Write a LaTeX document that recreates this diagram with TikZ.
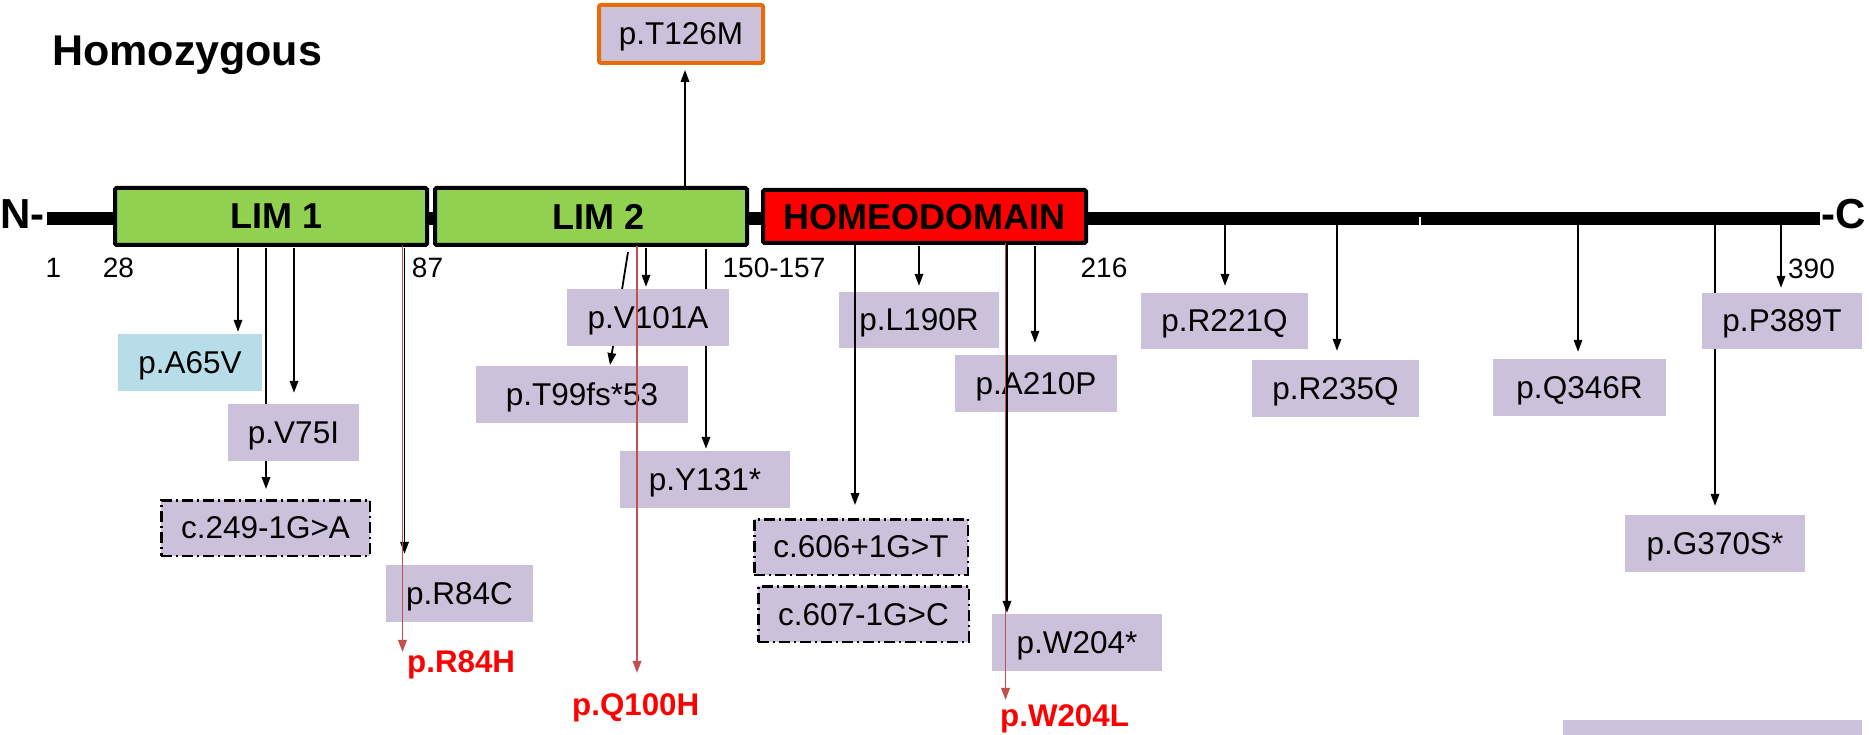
\documentclass[tikz,border=0pt]{standalone}
\usepackage{fontspec}
\setmainfont{Liberation Sans}
\usetikzlibrary{arrows.meta,backgrounds}
\definecolor{lav}{RGB}{204,193,218}
\definecolor{lblue}{RGB}{183,222,232}
\definecolor{lgreen}{RGB}{146,208,80}
\definecolor{hdred}{RGB}{255,0,0}
\definecolor{orng}{RGB}{228,108,10}
\definecolor{arred}{RGB}{192,80,77}
\begin{document}
\begin{tikzpicture}[x=1pt,y=-1pt,
  mut/.style={fill=lav, inner sep=0pt, text depth=0pt, minimum height=57pt, font=\fontsize{31.5}{36}\selectfont},
  splice/.style={mut, draw=black, line width=2.5pt, dash pattern=on 11pt off 4pt on 2pt off 4pt, minimum height=55.5pt},
  dom/.style={draw=black, line width=4pt, inner sep=0pt, text depth=0pt, rounded corners=1.5pt, font=\bfseries\fontsize{36}{40}\selectfont},
  num/.style={inner sep=0pt, text depth=0pt, font=\fontsize{28}{32}\selectfont},
  arr/.style={line width=1.8pt, -{Triangle[length=12pt,width=8.5pt]}},
  rarr/.style={arr, draw=arred},
  redlab/.style={inner sep=0pt, text depth=0pt, text=red, anchor=base west, font=\bfseries\fontsize{31.3}{36}\selectfont},
  term/.style={inner sep=0pt, font=\bfseries\fontsize{42}{46}\selectfont},
]
\useasboundingbox (0,0) rectangle (1869,735);

% backbone
\coordinate (bbL) at (47,218.5);
\coordinate (bbR) at (1820,218.5);
\draw[line width=13pt] (bbL) -- (bbR);
\draw[white, line width=1.5pt] (1420,217) -- (1420,225);

% title and termini
\node[anchor=base west, inner sep=0pt, font=\bfseries\fontsize{43}{48}\selectfont] (title) at (52,66) {Homozygous};
\node[term, anchor=base west] (nterm) at (0,229) {N-};
\node[term, anchor=base east] (cterm) at (1866,229) {-C};

% domains
\node[dom, fill=lgreen, minimum width=312pt, minimum height=57pt] (lim1) at (271,216.5) {\hspace*{11pt}LIM 1};
\node[dom, fill=lgreen, minimum width=312pt, minimum height=57pt] (lim2) at (591,216.5) {\hspace*{15pt}LIM 2};
\node[dom, fill=hdred, minimum width=323pt, minimum height=53pt] (hd) at (924.5,216.5) {HOMEODOMAIN};

% position numbers
\node[num] (n1) at (53.5,268) {1};
\node[num] (n28) at (118.5,268) {28};
\node[num] (n87) at (427.5,268) {87};
\node[num] (n150) at (774,268) {150-157};
\node[num] (n216) at (1104,268) {216};
\node[num] (n390) at (1811.5,269) {390};

% variant boxes
\node[mut, draw=orng, line width=4pt, rounded corners=2pt, minimum width=164pt, minimum height=58pt] (t126m) at (681,34) {p.T126M};
\node[mut, fill=lblue, minimum width=144pt] (a65v) at (190,362.5) {p.A65V};
\node[mut, minimum width=131pt] (v75i) at (293.5,432.5) {p.V75I};
\node[splice, minimum width=208.5pt] (c249) at (265.5,528) {c.249-1G>A};
\node[mut, minimum width=147pt] (r84c) at (459.5,593.5) {p.R84C};
\node[mut, minimum width=162pt] (v101a) at (648,317.5) {p.V101A};
\node[mut, minimum width=212pt] (t99) at (582,394.5) {p.T99fs*53};
\node[mut, minimum width=170pt] (y131) at (705,479.5) {p.Y131*};
\node[mut, minimum width=160pt, minimum height=56pt] (l190r) at (919,320) {p.L190R};
\node[mut, minimum width=162pt] (a210p) at (1036,383.5) {p.A210P};
\node[splice, minimum width=213.5pt] (c606) at (861,547) {c.606+1G>T};
\node[splice, minimum width=210.5pt] (c607) at (863.5,614) {c.607-1G>C};
\node[mut, minimum width=170pt] (w204) at (1077,642.5) {p.W204*};
\node[mut, minimum width=167pt, minimum height=56pt] (r221q) at (1224.5,321) {p.R221Q};
\node[mut, minimum width=167pt] (r235q) at (1335.5,388.5) {p.R235Q};
\node[mut, minimum width=173pt] (q346r) at (1579.5,387.5) {p.Q346R};
\node[mut, minimum width=160pt, minimum height=56pt] (p389t) at (1782,321) {p.P389T};
\node[mut, minimum width=180pt] (g370s) at (1715,543.5) {p.G370S*};
\node[mut, minimum width=299pt, minimum height=40pt, anchor=north west] (partial) at (1563,720) {};

% red labels
\node[redlab] (r84h) at (407,672) {p.R84H};
\node[redlab] (q100h) at (572,715) {p.Q100H};
\node[redlab] (w204l) at (1000,726) {p.W204L};

% start points of connectors
\coordinate (sT126) at (685,186);
\coordinate (sA65) at (238,248);
\coordinate (sV75) at (294,248);
\coordinate (sC249) at (266,248);
\coordinate (sR84C) at (404.5,248);
\coordinate (sR84H) at (402.5,246);
\coordinate (sT99) at (628,252);
\coordinate (eT99) at (610,365);
\coordinate (sQ100) at (637,246);
\coordinate (sV101) at (646,248);
\coordinate (sY131) at (706,249);
\coordinate (sC606) at (855,243);
\coordinate (sL190) at (919,246);
\coordinate (sW204) at (1007,243);
\coordinate (sW204L) at (1005.5,243);
\coordinate (sA210) at (1035,246);
\coordinate (sR221) at (1225,225);
\coordinate (sR235) at (1337,225);
\coordinate (sQ346) at (1578,225);
\coordinate (sG370) at (1715,225);
\coordinate (sP389) at (1781,225);

% connectors hidden behind boxes
\begin{scope}[on background layer]
\draw[arr, shorten >=10pt] (sC249) -- (sC249 |- c249.north);
\draw[arr] (sT99) -- (eT99);
\draw[arr, shorten >=2pt] (sY131) -- (sY131 |- y131.north);
\draw[arr, shorten >=9pt] (sG370) -- (sG370 |- g370s.north);
\end{scope}

% visible connectors
\draw[arr, shorten >=5pt] (sT126) -- (sT126 |- t126m.south);
\draw[arr, shorten >=2pt] (sA65) -- (sA65 |- a65v.north);
\draw[arr, shorten >=11pt] (sV75) -- (sV75 |- v75i.north);
\draw[arr, shorten >=11pt] (sR84C) -- (sR84C |- r84c.north);
\draw[rarr, shorten >=-2pt] (sR84H) -- (sR84H |- r84h.north);
\draw[arr, shorten >=2pt] (sV101) -- (sV101 |- v101a.north);
\draw[rarr, shorten >=20pt] (sQ100) -- (sQ100 |- q100h.north);
\draw[arr, shorten >=12pt] (sA210) -- (sA210 |- a210p.north);
\draw[arr, shorten >=6pt] (sL190) -- (sL190 |- l190r.north);
\draw[arr, shorten >=13pt] (sC606) -- (sC606 |- c606.north);
\draw[rarr, shorten >=4pt] (sW204L) -- (sW204L |- w204l.north);
\draw[arr, shorten >=1pt] (sW204) -- (sW204 |- w204.north);
\draw[arr, shorten >=7pt] (sR221) -- (sR221 |- r221q.north);
\draw[arr, shorten >=9pt] (sR235) -- (sR235 |- r235q.north);
\draw[arr, shorten >=7pt] (sQ346) -- (sQ346 |- q346r.north);
\draw[arr, shorten >=5pt] (sP389) -- (sP389 |- p389t.north);
\end{tikzpicture}
\end{document}
